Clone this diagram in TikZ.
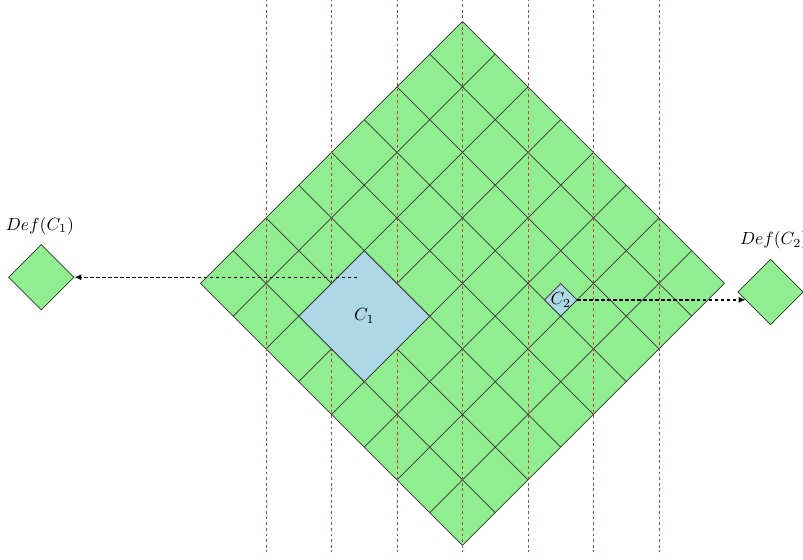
\documentclass[tikz,border=0pt]{standalone}
\usetikzlibrary{shapes.geometric,arrows.meta}
\definecolor{cellgreen}{RGB}{144,238,144}
\definecolor{cellblue}{RGB}{173,216,230}
\definecolor{guidered}{RGB}{185,65,65}
\begin{document}
\begin{tikzpicture}[x=18.61pt,y=-18.61pt,
  gridline/.style={draw=black!80, line width=0.4pt},
  guide/.style={draw=guidered, line width=0.35pt, dash pattern=on 1.6pt off 1.6pt},
  cell/.style={diamond, aspect=1, inner sep=0pt, draw=black!80, line width=0.4pt},
  flow/.style={draw=black, line width=0.8pt, dash pattern=on 1.9pt off 1.5pt, -{Latex[length=4pt,width=3.5pt]}}]
\useasboundingbox (-14.122,-8.656) rectangle (10.397,8.443);
% big diamond grid
\fill[cellgreen] (0,-8) -- (8,0) -- (0,8) -- (-8,0) -- cycle;
\foreach \k in {-4,...,4} {
  \draw[gridline] (\k-4,-4-\k) -- (\k+4,4-\k);
  \draw[gridline] (\k+4,\k-4) -- (\k-4,\k+4);
}
% red guide lines
\foreach \x in {-6,-4,...,6} {
  \draw[guide] (\x,-8.7) -- (\x,8.2);
}
% cells
\node[cell, fill=cellblue, minimum size=74.44pt] (c1) at (-3,1) {$C_1$};
\node[cell, fill=cellblue, minimum size=18.61pt, label=center:{$C_2$}] (c2) at (3,0.5) {};
\node[cell, fill=cellgreen, minimum size=37.22pt, label={[label distance=2pt, xshift=-0.8pt]above:{$Def(C_1)$}}] (d1) at (-12.86,-0.19) {};
\node[cell, fill=cellgreen, minimum size=37.22pt, label={[label distance=2pt, xshift=2pt]above:{$Def(C_2)$}}] (d2) at (9.405,0.26) {};
% connectors
\coordinate (s1) at (-3.22,-0.19);
\coordinate (e2) at (8.645,0.5);
\draw[flow] (s1) -- (d1.east);
\draw[flow] (c2.east) -- (e2);
\end{tikzpicture}
\end{document}
